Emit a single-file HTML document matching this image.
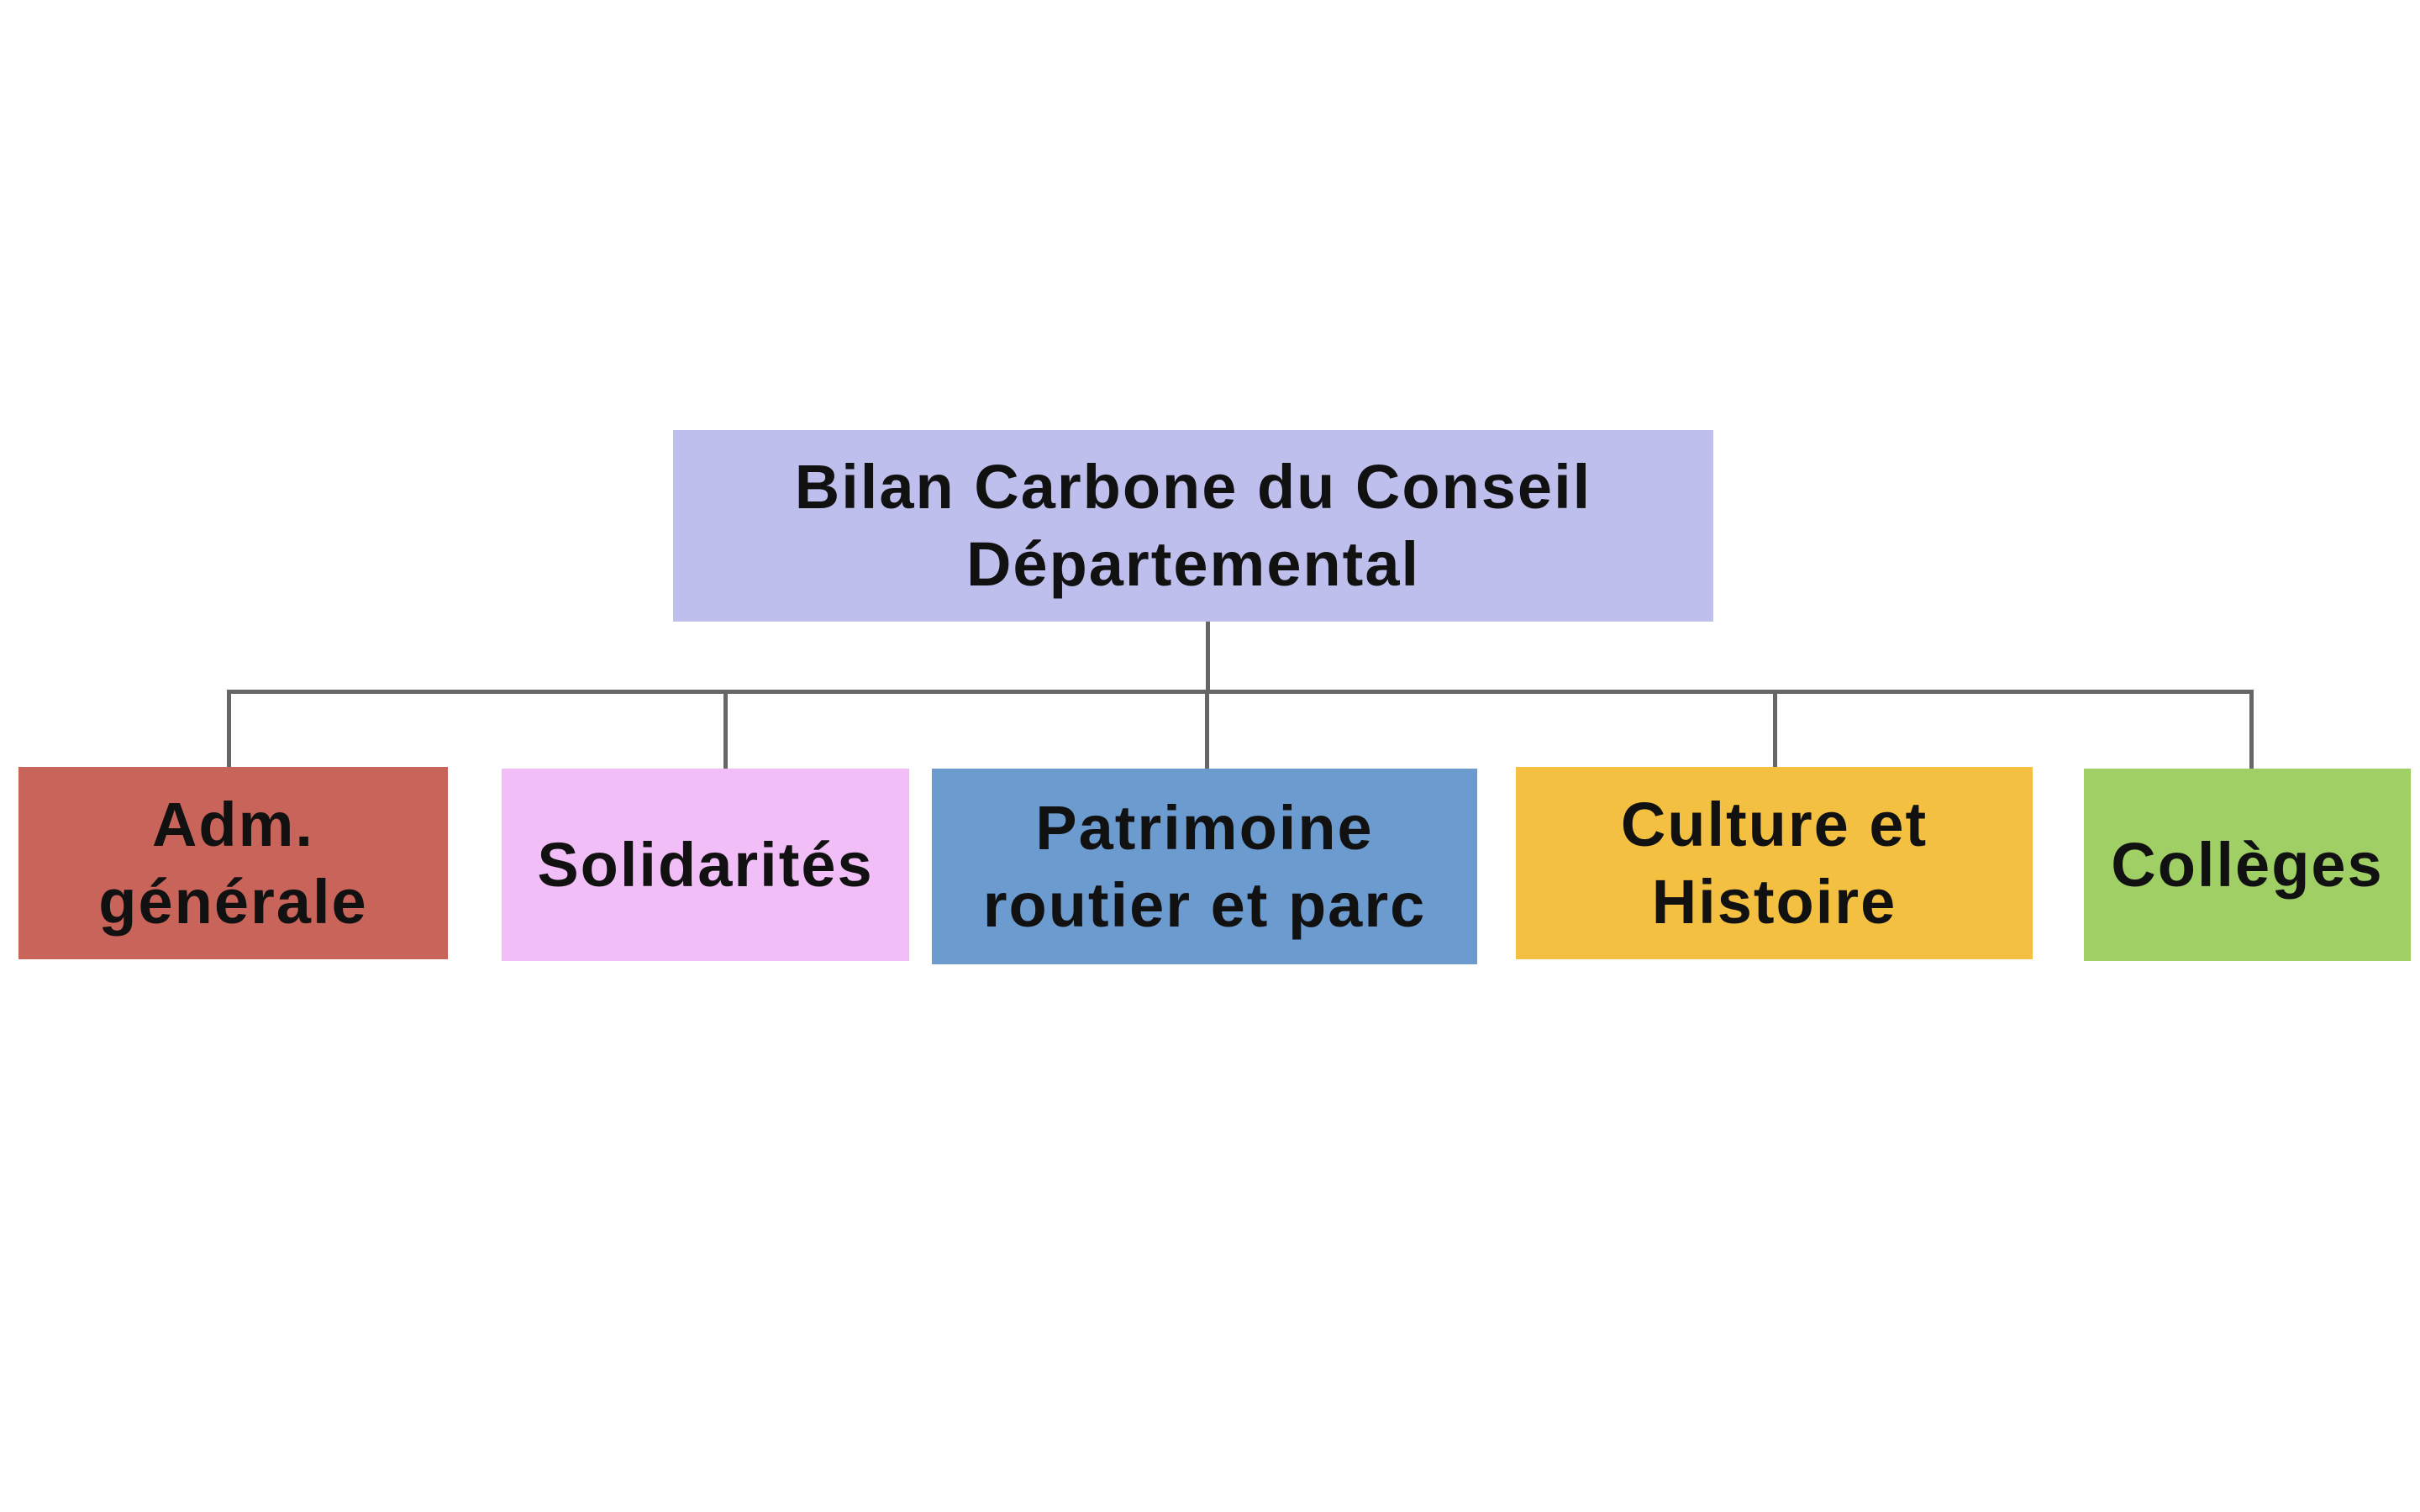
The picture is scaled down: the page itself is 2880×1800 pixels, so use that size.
<!DOCTYPE html>
<html><head><meta charset="utf-8"><style>
html,body{margin:0;padding:0;background:#fff;}
body{width:2880px;height:1800px;position:relative;overflow:hidden;font-family:"Liberation Sans",sans-serif;font-weight:bold;color:#111;}
.b{position:absolute;display:flex;align-items:center;justify-content:center;text-align:center;font-size:74px;letter-spacing:2px;line-height:92px;}
.l{position:absolute;background:#666;}
</style></head><body>
<div class="l" style="left:1435px;top:740px;width:5px;height:86px"></div>
<div class="l" style="left:270px;top:821px;width:2412px;height:5px"></div>
<div class="l" style="left:270px;top:821px;width:5px;height:94px"></div>
<div class="l" style="left:861px;top:821px;width:5px;height:96px"></div>
<div class="l" style="left:1434px;top:821px;width:5px;height:96px"></div>
<div class="l" style="left:2110px;top:821px;width:5px;height:94px"></div>
<div class="l" style="left:2677px;top:821px;width:5px;height:96px"></div>
<div class="b" style="left:801px;top:512px;width:1238px;height:228px;background:#BFBFEE">Bilan Carbone du Conseil<br>Départemental</div>
<div class="b" style="left:22px;top:913px;width:511px;height:229px;background:#C8645A">Adm.<br>générale</div>
<div class="b" style="left:597px;top:915px;width:485px;height:229px;background:#F2BEF7">Solidarités</div>
<div class="b" style="left:1109px;top:915px;width:649px;height:233px;background:#6C9BD0">Patrimoine<br>routier et parc</div>
<div class="b" style="left:1804px;top:913px;width:615px;height:229px;background:#F3C042">Culture et<br>Histoire</div>
<div class="b" style="left:2480px;top:915px;width:389px;height:229px;background:#A0CF66">Collèges</div>
</body></html>
